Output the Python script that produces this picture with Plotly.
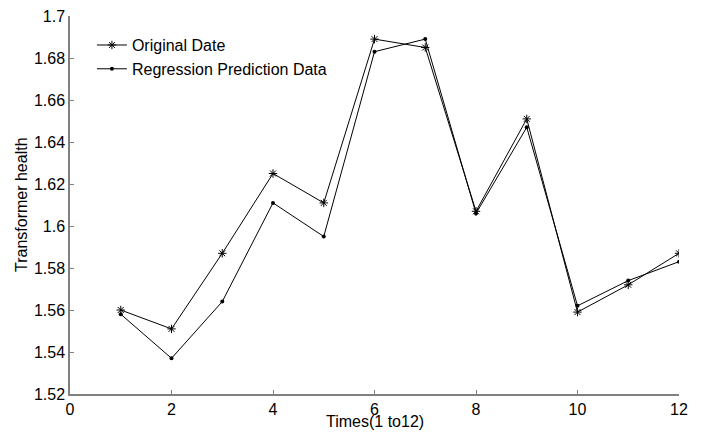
import plotly.graph_objects as go

times = [1, 2, 3, 4, 5, 6, 7, 8, 9, 10, 11, 12]
original = [1.560, 1.551, 1.587, 1.625, 1.611, 1.689, 1.685, 1.607, 1.651, 1.559, 1.572, 1.587]
regression = [1.558, 1.537, 1.564, 1.611, 1.595, 1.683, 1.689, 1.606, 1.647, 1.562, 1.574, 1.583]

y_ticks = [1.52, 1.54, 1.56, 1.58, 1.6, 1.62, 1.64, 1.66, 1.68, 1.7]
y_labels = ["1.52", "1.54", "1.56", "1.58", "1.6", "1.62", "1.64", "1.66", "1.68", "1.7"]
x_ticks = [0, 2, 4, 6, 8, 10, 12]

fig = go.Figure()
fig.add_trace(go.Scatter(
    x=times, y=original, mode="lines+markers", name="Original Date",
    line=dict(color="black", width=1),
    marker=dict(symbol="asterisk-open", size=7, color="black", line=dict(width=1, color="black")),
))
fig.add_trace(go.Scatter(
    x=times, y=regression, mode="lines+markers", name="Regression Prediction Data",
    line=dict(color="black", width=1),
    marker=dict(symbol="circle", size=4, color="black"),
))

axis_font = dict(family="Liberation Sans, Arial, sans-serif", size=16, color="black")
fig.update_layout(
    width=693, height=425,
    margin=dict(l=62, r=22, t=8, b=39, autoexpand=False),
    paper_bgcolor="white", plot_bgcolor="white",
    font=axis_font,
    showlegend=True,
    legend=dict(x=0.036, y=0.968, xanchor="left", yanchor="top",
                bgcolor="rgba(0,0,0,0)", font=axis_font, tracegroupgap=0,
                itemwidth=30),
    xaxis=dict(range=[0, 12], tickvals=x_ticks, ticks="inside", ticklen=4,
               tickcolor="#808080", showline=True, linecolor="#808080", linewidth=1.5,
               showgrid=False, zeroline=False, mirror=False, automargin=False,
               ticklabeloverflow="allow", tickfont=axis_font),
    yaxis=dict(range=[1.52, 1.7], tickvals=y_ticks, ticktext=y_labels, ticks="inside",
               ticklen=4, tickcolor="#808080", showline=True, linecolor="#808080",
               linewidth=1.5, showgrid=False, zeroline=False, mirror=False, automargin=False,
               ticklabeloverflow="allow", tickfont=axis_font),
    annotations=[
        dict(text="Times(1 to12)", xref="paper", yref="paper", x=0.5, y=0,
             xanchor="center", yanchor="middle", yshift=-27, showarrow=False, font=axis_font),
        dict(text="Transformer health", xref="paper", yref="paper", x=0, y=0.5,
             xanchor="center", yanchor="middle", xshift=-49, textangle=-90,
             showarrow=False, font=axis_font),
    ],
)

fig.write_html("out.html")
